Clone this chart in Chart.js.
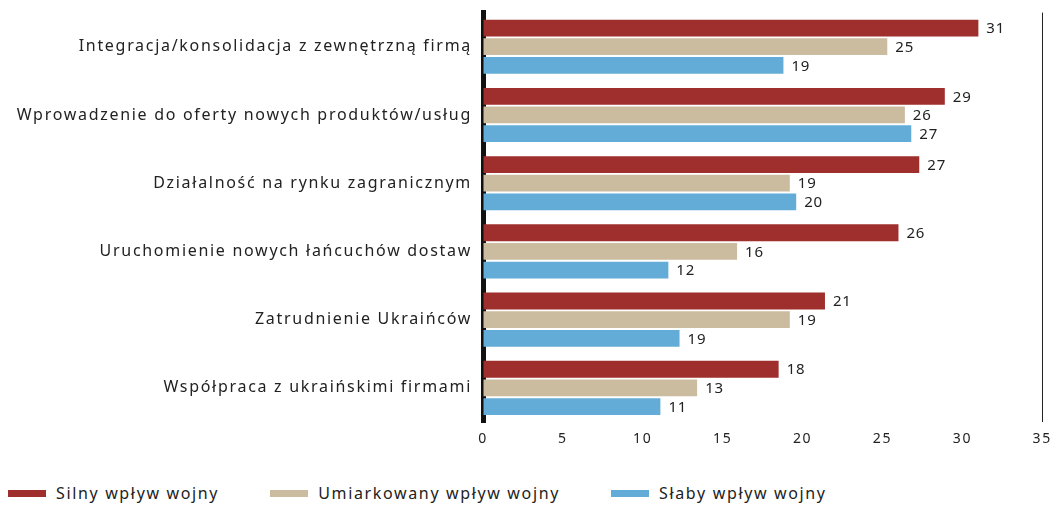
<!DOCTYPE html>
<html lang="pl">
<head>
<meta charset="utf-8">
<script src="https://cdn.jsdelivr.net/npm/chart.js@4.4.1/dist/chart.umd.min.js"></script>
<style>
    body { margin: 0; background: #fff; font-family: 'Noto Sans', sans-serif; overflow: hidden; }
    .wrap { position: relative; width: 1061px; height: 507px; overflow: hidden; }
    .chart-box { position: absolute; left: 0; top: -8px; width: 1061px; height: 460px; }
    .legend { position: absolute; left: 8px; top: 482px; display: flex; gap: 51px; font-size: 16px; letter-spacing: 1.65px; color: #222; }
    .legend-item { display: flex; align-items: center; gap: 10px; }
    .legend-swatch { width: 38px; height: 7px; }
</style>
</head>
<body>
<div class="wrap">
    <div class="chart-box"><canvas id="warChart"></canvas></div>
    <div class="legend" id="legend"></div>
</div>
<script>
const categories = [
    'Integracja/konsolidacja z zewnętrzną firmą',
    'Wprowadzenie do oferty nowych produktów/usług',
    'Działalność na rynku zagranicznym',
    'Uruchomienie nowych łańcuchów dostaw',
    'Zatrudnienie Ukraińców',
    'Współpraca z ukraińskimi firmami'
];

// bar lengths as drawn in the picture
const strongValues = [31.0, 28.9, 27.3, 26.0, 21.4, 18.5];
const moderateValues = [25.3, 26.4, 19.2, 15.9, 19.2, 13.4];
const weakValues = [18.8, 26.8, 19.6, 11.6, 12.3, 11.1];

// printed labels (they do not always match the bar)
const strongLabels = ['31', '29', '27', '26', '21', '18'];
const moderateLabels = ['25', '26', '19', '16', '19', '13'];
const weakLabels = ['19', '27', '20', '12', '19', '11'];

const seriesNames = ['Silny wpływ wojny', 'Umiarkowany wpływ wojny', 'Słaby wpływ wojny'];
const seriesColors = ['#9e2f2d', '#cbbb9f', '#63acd7'];
const xTicks = [0, 5, 10, 15, 20, 25, 30, 35];

const textColor = '#222';
const fontFamily = "'Noto Sans', sans-serif";

// wider letter spacing so Noto Sans looks closer to the original font
const spacingPlugin = {
    id: 'spacing',
    beforeLayout(chart) { chart.ctx.letterSpacing = '1.7px'; },
    beforeDraw(chart) { chart.ctx.letterSpacing = '1.7px'; }
};

// draws the number right after each bar
const barLabelPlugin = {
    id: 'barLabels',
    afterDatasetsDraw(chart) {
        const ctx = chart.ctx;
        ctx.save();
        ctx.letterSpacing = '0.8px';
        ctx.fillStyle = textColor;
        ctx.font = `15px ${fontFamily}`;
        ctx.textAlign = 'left';
        ctx.textBaseline = 'middle';
        chart.data.datasets.forEach((ds, i) => {
            const meta = chart.getDatasetMeta(i);
            meta.data.forEach((bar, j) => {
                ctx.fillText(ds.labelsText[j], bar.x + 8, bar.y + 1);
            });
        });
        ctx.restore();
    }
};

function buildLegend() {
    document.getElementById('legend').innerHTML = seriesNames.map((name, i) => `
        <div class="legend-item">
            <div class="legend-swatch" style="background:${seriesColors[i]}"></div>
            <span>${name}</span>
        </div>
    `).join('');
}

function renderChart() {
    const ctx = document.getElementById('warChart').getContext('2d');
    const valueSets = [strongValues, moderateValues, weakValues];
    const labelSets = [strongLabels, moderateLabels, weakLabels];

    new Chart(ctx, {
        type: 'bar',
        data: {
            labels: categories,
            datasets: valueSets.map((vals, i) => ({
                label: seriesNames[i],
                data: vals,
                labelsText: labelSets[i],
                backgroundColor: seriesColors[i],
                borderWidth: 0,
                categoryPercentage: 0.82,
                barPercentage: 0.9
            }))
        },
        options: {
            indexAxis: 'y',
            responsive: true,
            maintainAspectRatio: false,
            animation: false,
            layout: { padding: { top: 0, right: 18, left: 0, bottom: 0 } },
            plugins: {
                legend: { display: false },
                tooltip: { enabled: false }
            },
            scales: {
                x: {
                    min: 0,
                    max: 35,
                    afterBuildTicks: (scale) => { scale.ticks = xTicks.map(v => ({ value: v })); },
                    afterFit: (scale) => { scale.height = 30; },
                    grid: {
                        drawTicks: false,
                        color: (c) => c.tick && c.tick.value === 35 ? '#222' : 'transparent',
                        lineWidth: 1
                    },
                    border: { display: false },
                    ticks: { color: textColor, padding: 9, font: { family: fontFamily, size: 14 } }
                },
                y: {
                    afterFit: (scale) => { scale.width = 483; },
                    grid: { display: false, drawTicks: false },
                    border: { color: '#111', width: 5 },
                    ticks: { color: textColor, padding: 11, font: { family: fontFamily, size: 16 } }
                }
            }
        },
        plugins: [spacingPlugin, barLabelPlugin]
    });
}

document.addEventListener('DOMContentLoaded', () => {
    buildLegend();
    renderChart();
});
</script>
</body>
</html>
